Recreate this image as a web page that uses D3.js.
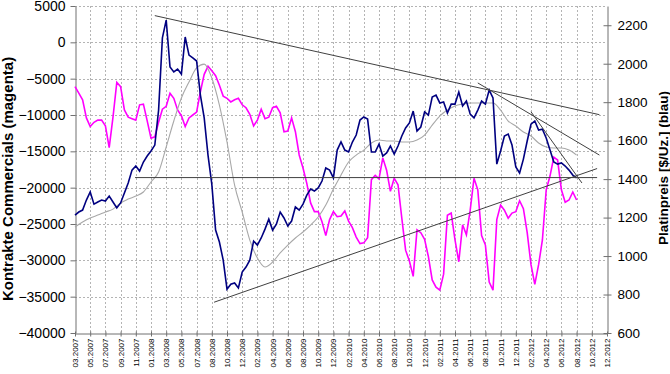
<!DOCTYPE html>
<html>
<head>
<meta charset="utf-8">
<script src="https://cdn.jsdelivr.net/npm/d3@7"></script>
<style>
  body { margin: 0; background: #fff; }
  #chart { width: 670px; height: 374px; }
  text { font-family: "Liberation Sans", Arial, sans-serif; }
</style>
</head>
<body>
<div id="chart"></div>
<script>
// x axis labels (one per tick, evenly spaced)
var xLabels = ["03.2007","05.2007","07.2007","09.2007","11.2007","01.2008","03.2008","05.2008",
  "07.2008","08.2008","10.2008","12.2008","02.2009","04.2009","06.2009","08.2009","10.2009",
  "12.2009","02.2010","04.2010","06.2010","08.2010","10.2010","12.2010","02.2011","04.2011",
  "06.2011","08.2011","10.2011","12.2011","02.2012","04.2012","06.2012","08.2012","10.2012","12.2012"];

var leftTicks = [-40000,-35000,-30000,-25000,-20000,-15000,-10000,-5000,0,5000];
var rightTicks = [600,800,1000,1200,1400,1600,1800,2000,2200];

// Platinpreis (blau), one value every quarter label step
var priceStep = 0.25;
var price = [1213,1229,1239,1291,1333,1270,1281,1291,1286,1312,
  1281,1250,1276,1328,1380,1447,1468,1442,1489,1520,
  1546,1577,1759,2134,2227,1983,1957,1972,1946,2139,
  2045,2030,2014,1837,1718,1525,1374,1135,1073,979,
  828,854,860,834,917,943,979,1078,1057,1094,
  1140,1192,1135,1166,1229,1198,1156,1182,1255,1239,
  1270,1317,1348,1338,1354,1390,1458,1447,1406,1551,
  1593,1551,1541,1593,1629,1707,1723,1712,1541,1541,
  1582,1520,1536,1572,1530,1572,1624,1666,1692,1754,
  1650,1671,1749,1733,1827,1837,1796,1801,1744,1790,
  1790,1853,1780,1806,1738,1718,1759,1806,1790,1863,
  1822,1478,1546,1624,1634,1577,1463,1432,1504,1598,
  1686,1702,1655,1660,1614,1551,1489,1478,1484,1468,
  1447,1421,1406];

// gleitender Durchschnitt (grau), every half label step
var avgStep = 0.5;
var priceAvg = [1151,1177,1198,1213,1229,1244,1276,1296,1312,1333,
  1385,1437,1567,1702,1822,1905,1978,1998,1926,1785,
  1593,1369,1229,1083,990,943,969,1016,1057,1094,
  1125,1161,1203,1265,1348,1421,1489,1525,1551,1588,
  1603,1598,1598,1593,1593,1603,1629,1681,1728,1759,
  1780,1790,1796,1796,1796,1796,1759,1702,1676,1645,
  1624,1588,1567,1562,1562,1551,1525];

// Kontrakte Commercials (magenta), every quarter label step
var commStep = 0.25;
var commercials = [-6100,-7000,-7900,-10400,-11600,-11000,-10700,-10700,-11500,-14500,
  -10300,-5500,-6100,-9300,-10300,-10500,-10700,-8600,-8500,-10800,
  -13200,-13000,-11000,-9200,-8800,-7000,-7700,-9300,-10100,-11600,
  -10400,-10000,-9600,-6800,-4400,-3300,-3900,-4600,-5900,-7400,
  -7700,-8200,-7900,-7700,-8600,-9000,-9900,-11500,-10700,-9200,
  -10500,-10300,-9000,-8800,-9700,-12300,-12200,-10400,-12300,-15500,
  -17300,-19400,-22100,-23300,-23300,-24700,-26600,-24400,-23300,-24000,
  -23900,-23200,-24600,-25500,-26800,-27700,-27600,-26900,-18900,-18300,
  -18800,-15900,-17600,-20500,-18700,-19600,-24200,-28600,-30100,-32200,
  -25800,-26200,-27100,-29500,-32700,-33700,-34100,-31900,-23800,-23500,
  -27200,-30200,-25100,-26500,-23100,-18700,-20300,-26600,-27900,-33000,
  -34100,-24400,-22400,-23100,-24200,-23500,-23300,-21800,-22900,-26200,
  -30600,-33300,-30600,-27200,-20300,-18400,-15800,-16200,-20300,-22000,
  -21700,-20600,-21700];

// Trendlinien in price units: [label index, price]
var trendLines = [
  [[5.25, 2250], [34.5, 1735]],
  [[26.5, 1900], [34.5, 1525]],
  [[30.0, 1750], [33.35, 1380]],
  [[3.95, 1408], [34.35, 1408]],
  [[9.15, 760], [34.35, 1455]]
];

var width = 670, height = 374;
var plotLeft = 75, plotRight = 607, plotTop = 6, plotBottom = 333;

var svg = d3.select("#chart").append("svg")
    .attr("width", width)
    .attr("height", height);

var xScale = d3.scaleLinear()
    .domain([0, xLabels.length - 1])
    .range([plotLeft, plotRight]);

var yLeft = d3.scaleLinear()
    .domain([-40000, 5000])
    .range([plotBottom, plotTop]);

var yRight = d3.scaleLinear()
    .domain([600, 2300])
    .range([plotBottom, plotTop]);

// dotted grid
svg.append("g").selectAll("line")
    .data(leftTicks.slice(1))
    .enter().append("line")
    .attr("x1", plotLeft).attr("x2", plotRight)
    .attr("y1", function(d) { return Math.round(yLeft(d)) + 0.5; })
    .attr("y2", function(d) { return Math.round(yLeft(d)) + 0.5; })
    .attr("stroke", "#b4b4b4")
    .attr("stroke-dasharray", "2,2");

svg.append("g").selectAll("line")
    .data(d3.range(1, xLabels.length - 1))
    .enter().append("line")
    .attr("x1", function(d) { return Math.round(xScale(d)) + 0.5; })
    .attr("x2", function(d) { return Math.round(xScale(d)) + 0.5; })
    .attr("y1", plotTop).attr("y2", plotBottom)
    .attr("stroke", "#b4b4b4")
    .attr("stroke-dasharray", "2,2");

// axes
var leftAxis = svg.append("g")
    .attr("transform", "translate(" + (plotLeft + 0.5) + ",0)")
    .call(d3.axisLeft(yLeft).tickValues(leftTicks).tickSize(5).tickSizeOuter(0).tickPadding(5).tickFormat(d3.format("d")));
leftAxis.selectAll("text").style("font-size", "14px").attr("fill", "#000");

var rightAxis = svg.append("g")
    .attr("transform", "translate(" + (plotRight + 0.5) + ",0)")
    .call(d3.axisRight(yRight).tickValues(rightTicks).tickSize(4).tickSizeOuter(0).tickPadding(6).tickFormat(d3.format("d")));
rightAxis.selectAll(".tick line").attr("x1", -4);
rightAxis.selectAll("text").style("font-size", "13.5px").attr("fill", "#000");

var bottomAxis = svg.append("g")
    .attr("transform", "translate(0," + (plotBottom + 0.5) + ")")
    .call(d3.axisBottom(xScale).tickValues(d3.range(xLabels.length)).tickSize(3).tickSizeOuter(0)
      .tickFormat(function(d) { return xLabels[d]; }));
bottomAxis.selectAll(".tick line").attr("y1", -2);
bottomAxis.selectAll("text")
    .style("font-size", "8px")
    .attr("fill", "#000")
    .style("text-anchor", "end")
    .attr("dx", "-5px")
    .attr("dy", "0.32em")
    .attr("y", 0)
    .attr("x", 0)
    .attr("transform", "rotate(-90)");

svg.selectAll(".domain").attr("stroke", "#707070");
svg.selectAll(".tick line").attr("stroke", "#707070");

// series
var commLine = d3.line()
    .x(function(d, i) { return xScale(i * commStep); })
    .y(function(d) { return yLeft(d); });

var priceLine = d3.line()
    .x(function(d, i) { return xScale(i * priceStep); })
    .y(function(d) { return yRight(d); });

var avgLine = d3.line()
    .x(function(d, i) { return xScale(i * avgStep); })
    .y(function(d) { return yRight(d); })
    .curve(d3.curveMonotoneX);

svg.append("path")
    .attr("d", commLine(commercials))
    .attr("fill", "none")
    .attr("stroke", "#ff00ff")
    .attr("stroke-width", 1.6);

svg.append("path")
    .attr("d", avgLine(priceAvg))
    .attr("fill", "none")
    .attr("stroke", "#a8a8a8")
    .attr("stroke-width", 1.1);

svg.append("path")
    .attr("d", priceLine(price))
    .attr("fill", "none")
    .attr("stroke", "#000080")
    .attr("stroke-width", 1.6);

svg.append("g").selectAll("line")
    .data(trendLines)
    .enter().append("line")
    .attr("x1", function(d) { return xScale(d[0][0]); })
    .attr("y1", function(d) { return yRight(d[0][1]); })
    .attr("x2", function(d) { return xScale(d[1][0]); })
    .attr("y2", function(d) { return yRight(d[1][1]); })
    .attr("stroke", "#404040")
    .attr("stroke-width", 1);

// axis titles
svg.append("text")
    .attr("transform", "translate(13,179) rotate(-90)")
    .attr("text-anchor", "middle")
    .style("font-size", "15px")
    .style("font-weight", "bold")
    .text("Kontrakte Commercials (magenta)");

svg.append("text")
    .attr("transform", "translate(668,168) rotate(-90)")
    .attr("text-anchor", "middle")
    .style("font-size", "13.5px")
    .style("font-weight", "bold")
    .text("Platinpreis [$/Uz.] (blau)");
</script>
</body>
</html>
